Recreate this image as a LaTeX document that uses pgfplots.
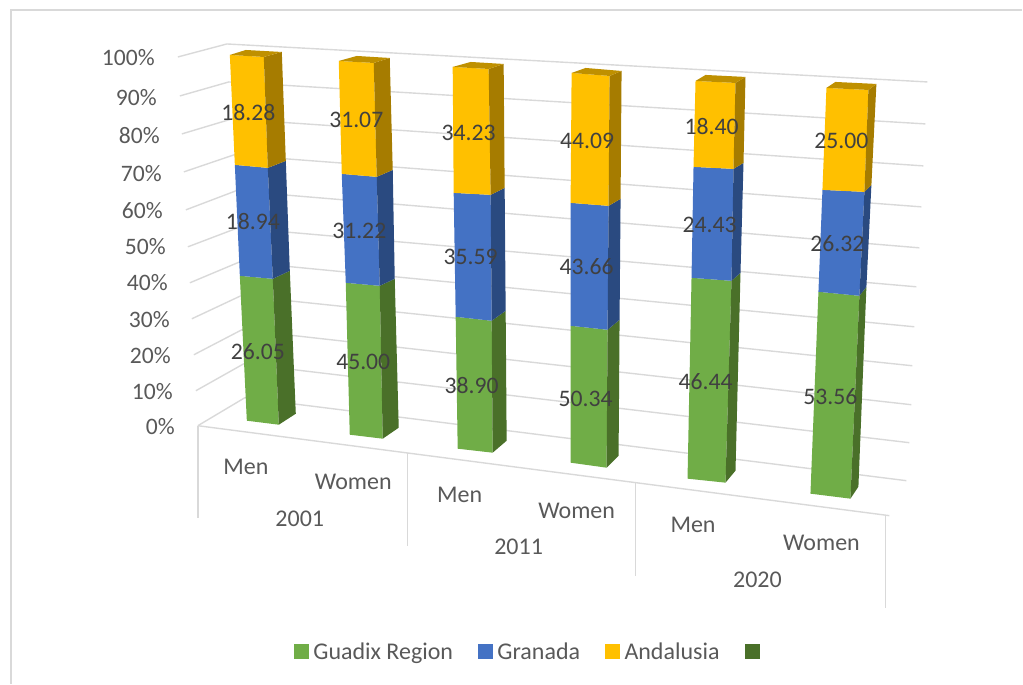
\documentclass[border=0pt]{standalone}
\usepackage{fontspec}
\setmainfont{Carlito}
\usepackage{pgfplots}
\pgfplotsset{compat=1.18}
\definecolor{gridc}{HTML}{D9D9D9}
\definecolor{txt}{HTML}{595959}
\definecolor{lab}{HTML}{404040}
\definecolor{gfront}{HTML}{70AD47}
\definecolor{gside}{HTML}{4A7029}
\definecolor{bfront}{HTML}{4472C4}
\definecolor{bside}{HTML}{2A4A80}
\definecolor{yfront}{HTML}{FFC000}
\definecolor{yside}{HTML}{A67C00}
\definecolor{ytop}{HTML}{BF9000}
% one face of a bar, corners in picture pixels
\newcommand{\face}[2]{\addplot[fill=#1, draw=none, forget plot] coordinates {#2} -- cycle;}
\newcommand{\gridl}[1]{\addplot[gridc, line width=1.4pt, forget plot] coordinates {#1};}
\begin{document}
\begin{tikzpicture}
\begin{axis}[
  scale only axis, width=1023pt, height=684pt,
  xmin=0, xmax=1023, ymin=0, ymax=684, y dir=reverse,
  hide axis, clip=false,
  legend columns=-1,
  legend style={at={(axis cs:294,652)}, anchor=west, draw=none, fill=none,
    font=\fontsize{24}{28}\selectfont, text=txt, inner sep=0pt,
    nodes={inner sep=0pt},
    /tikz/every odd column/.style={column sep=5pt},
    /tikz/every even column/.style={column sep=25pt}},
  legend image code/.code={\fill[#1] (0pt,-7pt) rectangle (14pt,7pt);},
]
% keep the whole page in the bounding box
\path (axis cs:0,0) -- (axis cs:1023,684);
% frame
\gridl{(11,684) (11,10) (1023,10)}
% walls: front tick, back corner, right end
\gridl{(178,57) (227,44) (928,82)}
\gridl{(180,96) (229,82) (926,124)}
\gridl{(182,134) (232,119) (924,166)}
\gridl{(184,172) (234,155) (922,207)}
\gridl{(186,210) (236,191) (920,248)}
\gridl{(188,247) (238,228) (917,287)}
\gridl{(190,283) (240,262) (915,327)}
\gridl{(192,319) (241,296) (913,366)}
\gridl{(194,355) (242,330) (912,405)}
\gridl{(196,391) (244,364) (910,443)}
\gridl{(198,426) (245,398) (907,481)}
% floor edge and dividers
\gridl{(198,426) (890,516)}
\gridl{(198,426) (198,518)}
\gridl{(408,453) (408,546)}
\gridl{(636,483) (636,576)}
\gridl{(886,516) (886,608)}
% bar 1
\face{gfront}{(240,276) (273,279) (279,425) (247,421)}
\face{gside}{(273,279) (290,271) (296,414) (279,425)}
\face{bfront}{(235,165) (268,168) (273,279) (240,276)}
\face{bside}{(268,168) (286,161) (290,271) (273,279)}
\face{yfront}{(230,55) (264,57) (268,168) (235,165)}
\face{yside}{(264,57) (282,52) (286,161) (268,168)}
\face{ytop}{(230,55) (246,50) (282,52) (264,57)}
% bar 2
\face{gfront}{(346,283) (380,286) (383,439) (350,435)}
\face{gside}{(380,286) (395,279) (399,428) (383,439)}
\face{bfront}{(342,174) (377,177) (380,286) (346,283)}
\face{bside}{(377,177) (393,170) (395,279) (380,286)}
\face{yfront}{(339,61) (374,63) (377,177) (342,174)}
\face{yside}{(374,63) (390,58) (393,170) (377,177)}
\face{ytop}{(339,61) (357,56) (390,58) (374,63)}
% bar 3
\face{gfront}{(456,317) (492,321) (493,453) (458,449)}
\face{gside}{(492,321) (506,311) (507,441) (493,453)}
\face{bfront}{(454,193) (491,195) (492,321) (456,317)}
\face{bside}{(491,195) (505,188) (506,311) (492,321)}
\face{yfront}{(453,67) (489,69) (491,195) (454,193)}
\face{yside}{(489,69) (504,64) (505,188) (491,195)}
\face{ytop}{(453,67) (471,62) (504,64) (489,69)}
% bar 4
\face{gfront}{(571,326) (608,330) (607,468) (571,463)}
\face{gside}{(608,330) (620,320) (619,456) (607,468)}
\face{bfront}{(571,203) (609,206) (608,330) (571,326)}
\face{bside}{(609,206) (621,199) (620,320) (608,330)}
\face{yfront}{(572,73) (610,76) (609,206) (571,203)}
\face{yside}{(610,76) (622,71) (621,199) (609,206)}
\face{ytop}{(572,73) (586,68) (622,71) (610,76)}
% bar 5
\face{gfront}{(692,278) (732,281) (726,483) (688,479)}
\face{gside}{(732,281) (741,273) (736,471) (726,483)}
\face{bfront}{(694,167) (734,169) (732,281) (692,278)}
\face{bside}{(734,169) (744,163) (741,273) (732,281)}
\face{yfront}{(696,81) (736,83) (734,169) (694,167)}
\face{yside}{(736,83) (746,77) (744,163) (734,169)}
\face{ytop}{(696,81) (706,75) (746,77) (736,83)}
% bar 6
\face{gfront}{(819,292) (860,296) (851,499) (811,494)}
\face{gside}{(860,296) (867,287) (859,487) (851,499)}
\face{bfront}{(823,190) (865,192) (860,296) (819,292)}
\face{bside}{(865,192) (872,185) (867,287) (860,296)}
\face{yfront}{(827,88) (869,90) (865,192) (823,190)}
\face{yside}{(869,90) (877,84) (872,185) (865,192)}
\face{ytop}{(827,88) (836,82) (877,84) (869,90)}
% data labels
\addplot[only marks, mark=none, forget plot, nodes near coords, point meta=explicit symbolic,
  every node near coord/.style={anchor=center, inner sep=0pt, text=lab, font=\fontsize{23.7}{27}\selectfont}]
  table[meta=v] {
x y v
248.5 113 18.28
253 222 18.94
258 352 26.05
356.5 120 31.07
359.5 231 31.22
363.5 362 45.00
469 133 34.23
471 257 35.59
472 386 38.90
587.5 141 44.09
587 267 43.66
586 399 50.34
712 127 18.40
710 225 24.43
706 382 46.44
842 141 25.00
838 244 26.32
831 397 53.56
};
% value axis labels
\begin{scope}[every node/.style={anchor=east, inner sep=0pt, text=txt, font=\fontsize{23.6}{27}\selectfont}]
\node at (axis cs:155,58) {100\%};
\node at (axis cs:157,98) {90\%};
\node at (axis cs:160,136) {80\%};
\node at (axis cs:162,174) {70\%};
\node at (axis cs:163,211) {60\%};
\node at (axis cs:166,247) {50\%};
\node at (axis cs:168,283) {40\%};
\node at (axis cs:170,320) {30\%};
\node at (axis cs:171,356) {20\%};
\node at (axis cs:173,392) {10\%};
\node at (axis cs:175,427) {0\%};
\end{scope}
% category labels
\begin{scope}[every node/.style={anchor=center, inner sep=0pt, text=txt, font=\fontsize{24}{28}\selectfont}]
\node at (axis cs:246,467) {Men};
\node at (axis cs:353.5,482) {Women};
\node at (axis cs:300,519) {2001};
\node at (axis cs:460,495) {Men};
\node at (axis cs:577,511) {Women};
\node at (axis cs:519,547) {2011};
\node at (axis cs:693.5,525) {Men};
\node at (axis cs:822,543) {Women};
\node at (axis cs:758,580) {2020};
\end{scope}
% legend
\addlegendimage{gfront}\addlegendentry{Guadix Region}
\addlegendimage{bfront}\addlegendentry{Granada}
\addlegendimage{yfront}\addlegendentry{Andalusia}
\addlegendimage{gside}\addlegendentry{}
\end{axis}
\end{tikzpicture}
\end{document}
